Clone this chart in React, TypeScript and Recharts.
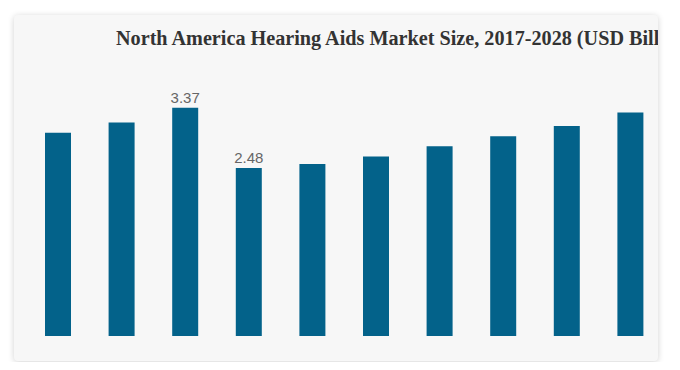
import React from "react";
import { BarChart, Bar, XAxis, YAxis, LabelList } from "recharts";

const years = ["2017", "2018", "2019", "2020", "2021", "2022", "2023", "2024", "2025", "2026"];
const marketSize = [3.0, 3.15, 3.37, 2.48, 2.54, 2.65, 2.8, 2.95, 3.1, 3.3];
const showLabel = [false, false, true, true, false, false, false, false, false, false];
const title = "North America Hearing Aids Market Size, 2017-2028 (USD Billion)";

const data = years.map((y, i) => ({ year: y, value: marketSize[i], show: showLabel[i] }));

const TopLabel = (props: any) => {
  const { x, y, width, value, index } = props;
  if (!showLabel[index]) return null;
  return (
    <text
      x={x + width / 2}
      y={y - 5}
      textAnchor="middle"
      fill="#666666"
      fontSize={15}
      fontFamily="'Liberation Sans', Arial, sans-serif"
    >
      {value.toFixed(2)}
    </text>
  );
};

export default function App() {
  return (
    <div style={{ position: "relative", width: 664, height: 354 }}>
      <div
        style={{
          position: "absolute",
          left: 6,
          top: 7,
          width: 644,
          height: 346,
          background: "#f7f7f7",
          borderRadius: 4,
          boxShadow: "0 1px 6px rgba(0,0,0,0.18)",
          overflow: "hidden",
        }}
      >
        <div
          style={{
            position: "absolute",
            left: 102,
            top: 13.3,
            whiteSpace: "nowrap",
            fontFamily: "'Liberation Serif', 'Times New Roman', serif",
            fontWeight: "bold",
            fontSize: 20.2,
            lineHeight: "20px",
            color: "#333333",
          }}
        >
          {title}
        </div>
        <div style={{ position: "absolute", left: 0, top: 0 }}>
          <BarChart
            width={648}
            height={346}
            data={data}
            margin={{ top: 50, right: 0, bottom: 25, left: 12 }}
          >
            <XAxis dataKey="year" hide />
            <YAxis hide domain={[0, 4]} />
            <Bar dataKey="value" fill="#03628A" barSize={26} isAnimationActive={false}>
              <LabelList dataKey="value" content={TopLabel} />
            </Bar>
          </BarChart>
        </div>
      </div>
    </div>
  );
}
